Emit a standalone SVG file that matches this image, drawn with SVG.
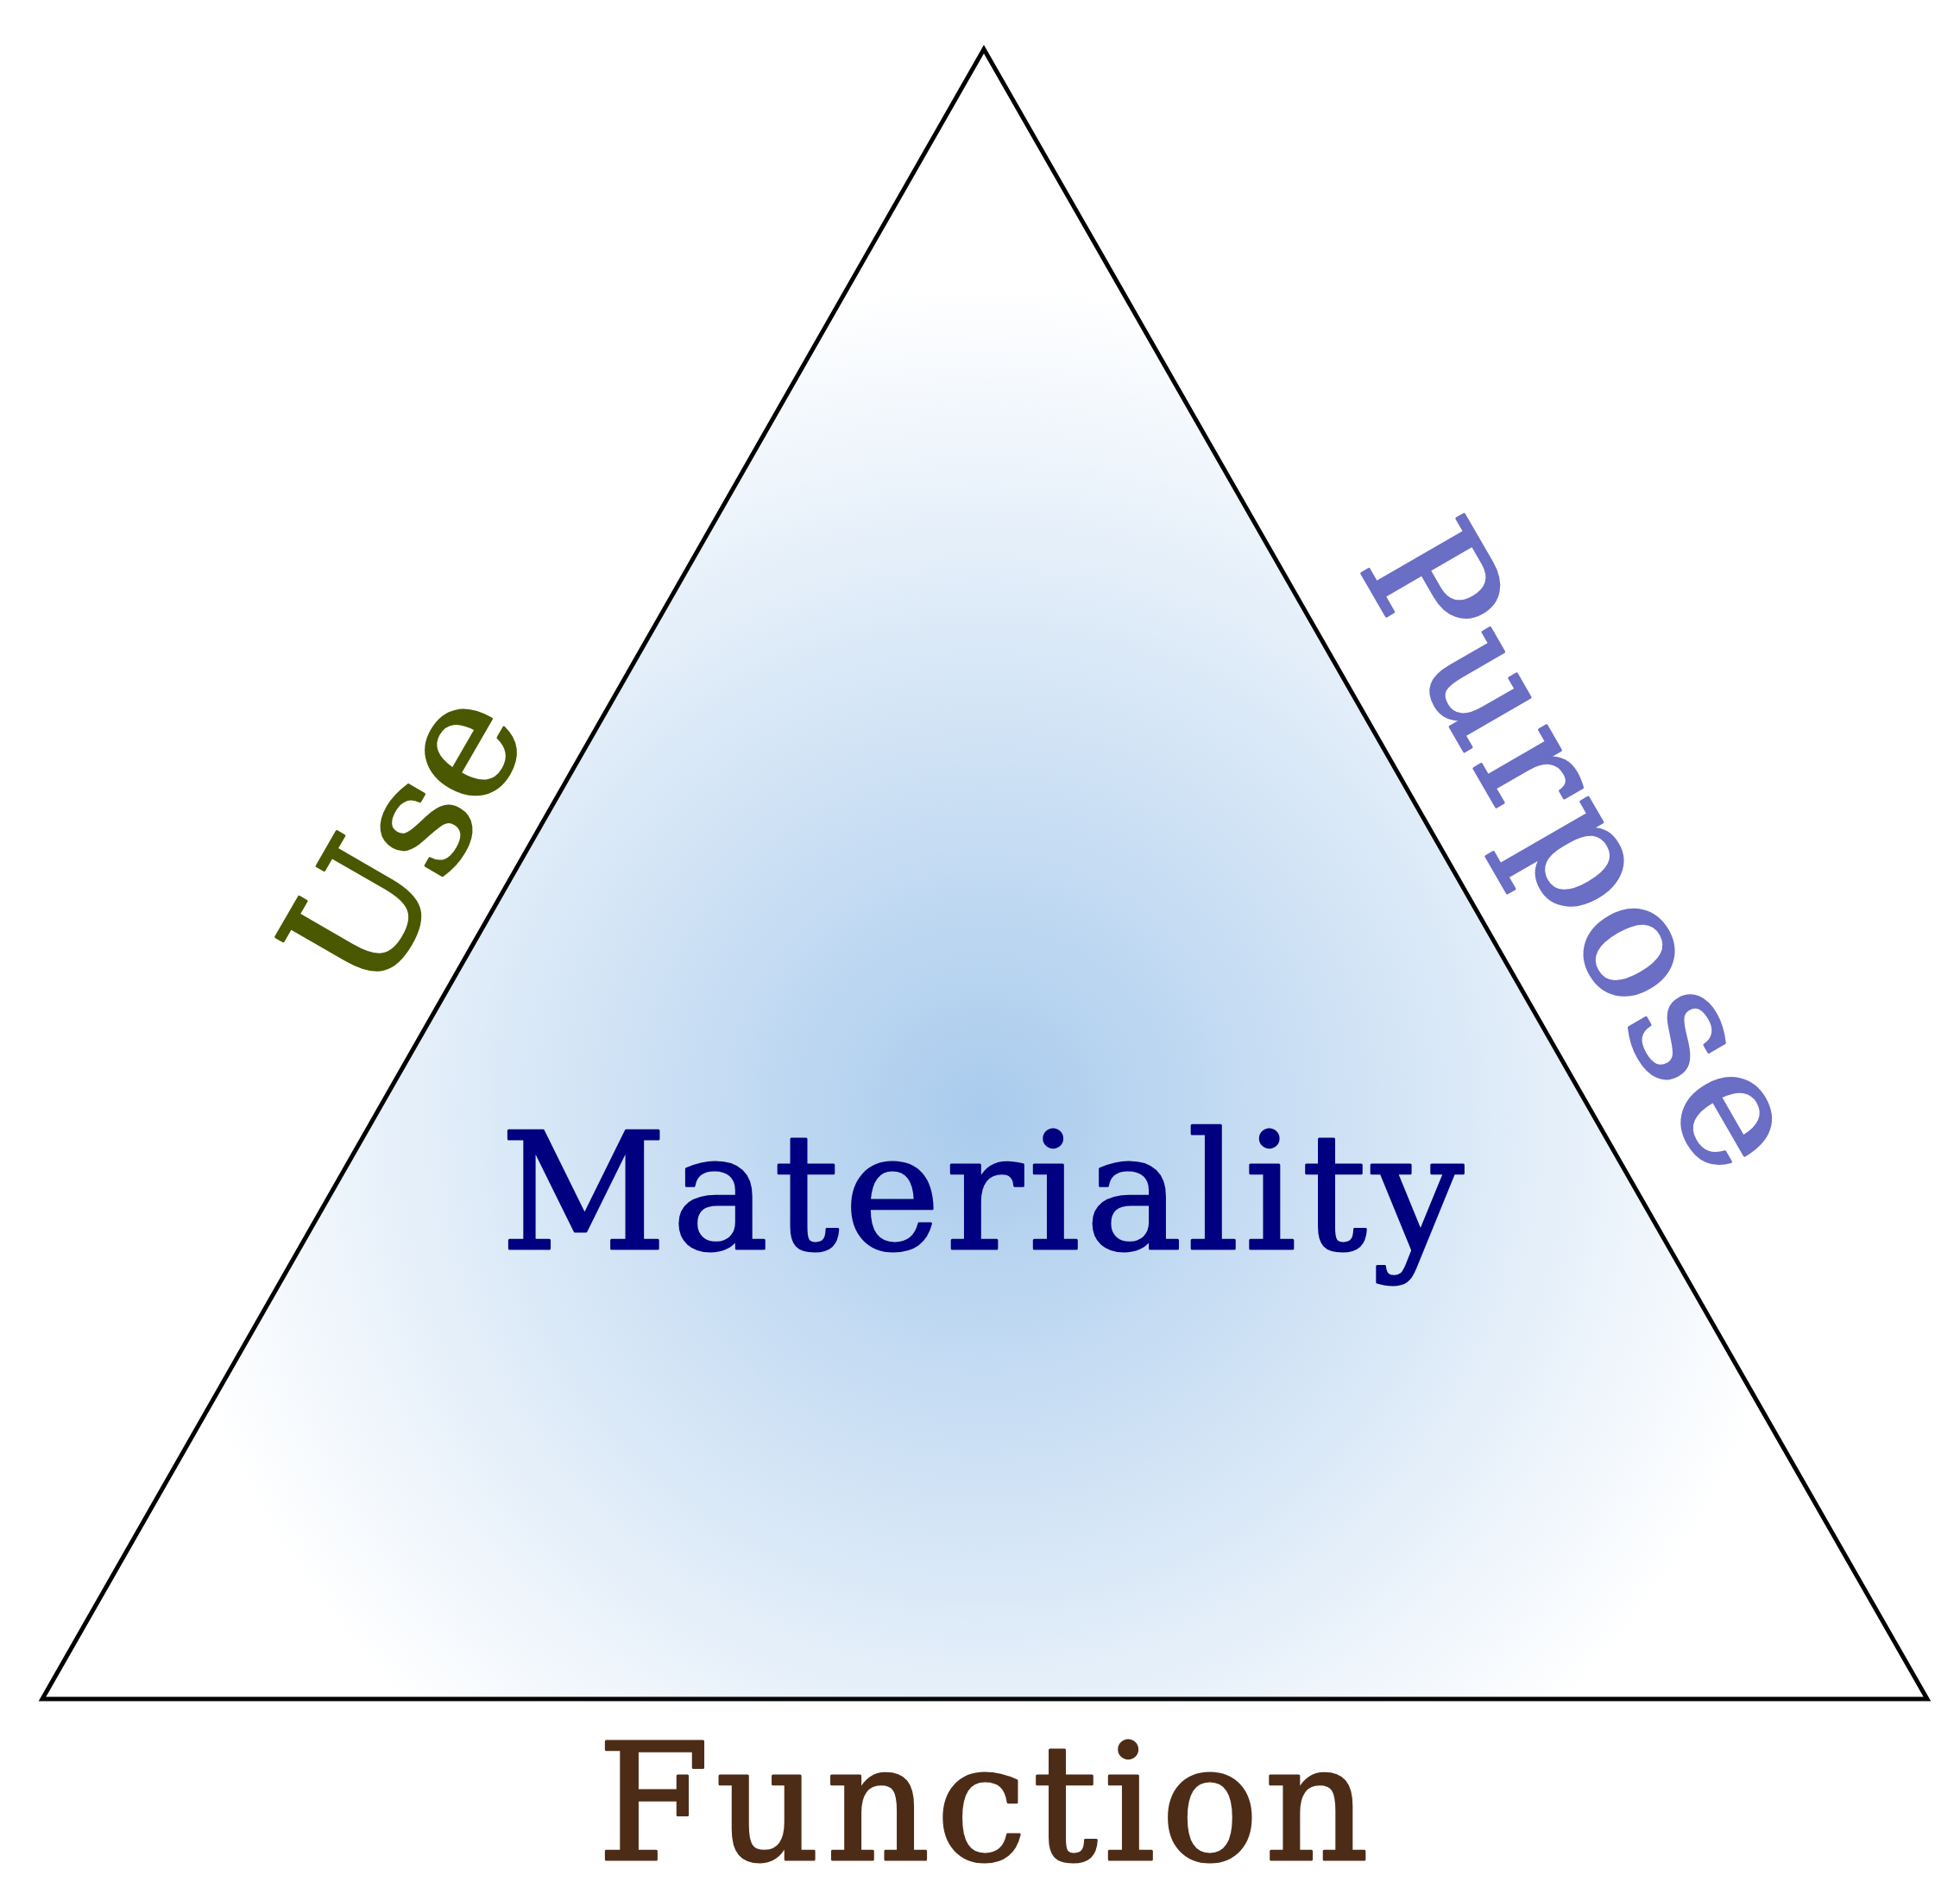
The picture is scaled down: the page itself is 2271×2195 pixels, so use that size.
<svg xmlns="http://www.w3.org/2000/svg" width="2271" height="2195" viewBox="0 0 2271 2195">
  <style>
    .lbl { font-family: "DejaVu Serif", "Liberation Serif", serif; font-size: 188px; stroke-width: 3; stroke-linejoin: round; }
  </style>
  <defs>
    <radialGradient id="fillGrad" gradientUnits="userSpaceOnUse" cx="1140" cy="1290" r="960">
      <stop offset="0" stop-color="#a9cbed"/>
      <stop offset="1" stop-color="#ffffff"/>
    </radialGradient>
  </defs>
  <rect width="2271" height="2195" fill="#ffffff"/>
  <g id="triangle">
    <polygon points="49,1969 1140,57 2233,1969" fill="url(#fillGrad)" stroke="#000000" stroke-width="5" stroke-linejoin="miter"/>
  </g>
  <g id="materiality">
    <text class="lbl" x="580" y="1447" fill="#000080" stroke="#000080" textLength="1116" lengthAdjust="spacing">Materiality</text>
  </g>
  <g id="use">
    <text class="lbl" transform="translate(434,1162) rotate(-60)" x="0" y="0" fill="#4a5800" stroke="#4a5800" textLength="362" lengthAdjust="spacing">Use</text>
  </g>
  <g id="purpose">
    <text class="lbl" transform="translate(1572.4,655.6) rotate(60)" x="0" y="0" fill="#6a6ec4" stroke="#6a6ec4" textLength="826" lengthAdjust="spacing">Purpose</text>
  </g>
  <g id="function">
    <text class="lbl" x="692" y="2155" fill="#4d2c17" stroke="#4d2c17" textLength="894" lengthAdjust="spacing">Function</text>
  </g>
</svg>
